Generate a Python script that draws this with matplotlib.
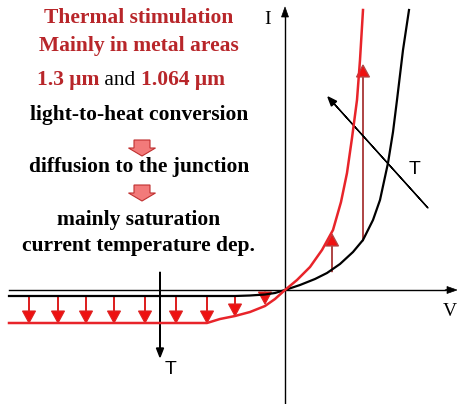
import numpy as np
import matplotlib.pyplot as plt

# I-V curves of a diode (arbitrary units, origin at axis crossing)
red_v = [-27.6, -10.0, -7.8, -6.5, -5.0, -3.5, -2.0, -1.0, 0.0, 1.2, 2.5, 3.7, 4.8,
         5.6, 6.2, 6.7, 7.2, 7.5, 7.8]
red_i = [-3.3, -3.3, -3.3, -2.9, -2.6, -2.2, -1.6, -0.9, 0.0, 1.0, 2.3, 4.0, 6.0,
         8.8, 11.7, 15.2, 19.0, 23.0, 28.0]

black_v = [-27.6, -5.0, -3.5, -2.0, -1.0, 0.0, 1.5, 3.0, 4.2, 5.5, 6.8, 7.8, 8.8,
           9.5, 10.3, 10.8, 11.2, 11.8, 12.4]
black_i = [-0.6, -0.6, -0.55, -0.45, -0.3, 0.0, 0.5, 1.1, 1.7, 2.6, 3.8, 5.0, 7.0,
           9.0, 12.7, 15.8, 19.0, 24.0, 28.0]

# reverse-bias arrows (saturation current increase)
down_v = [-25.6, -22.7, -19.9, -17.1, -14.0, -10.9, -7.8, -5.0, -2.0]
down_top = [-0.6] * 9
down_bot = [-3.3, -3.3, -3.3, -3.3, -3.3, -3.3, -3.3, -2.6, -1.4]

# forward-bias arrows
up_v = [4.7, 7.8]
up_from = [1.8, 4.9]
up_to = [5.6, 22.5]

text_lines = [
    ("Thermal stimulation", 27.2, "#b8262a"),
    ("Mainly in metal areas", 24.4, "#b8262a"),
    ("light-to-heat conversion", 17.5, "black"),
    ("diffusion to the junction", 12.3, "black"),
    ("mainly saturation", 7.0, "black"),
    ("current temperature dep.", 4.4, "black"),
]

fs = 15.5
fig = plt.figure(figsize=(4.57, 4.04), dpi=100)
ax = fig.add_axes([0, 0, 1, 1])
ax.set_xlim(-28.5, 17.2)
ax.set_ylim(-11.4, 29.0)
ax.axis('off')

# axes with arrows
ax.plot([-27.6, 16.0], [0, 0], color='black', lw=1.0)
ax.arrow(16.0, 0, 1.2, 0, head_width=0.7, head_length=1.0, fc='black', ec='black',
         lw=0.5, length_includes_head=True)
ax.plot([0, 0], [-11.4, 27.5], color='black', lw=1.0)
ax.arrow(0, 27.5, 0, 0.8, head_width=0.7, head_length=1.0, fc='black', ec='black',
         lw=0.5, length_includes_head=True)
ax.text(-1.7, 27.0, "I", fontsize=14, family='Liberation Serif', ha='center', va='center')
ax.text(16.5, -2.2, "V", fontsize=14, family='Liberation Serif', ha='center', va='center')

# curves
ax.plot(black_v, black_i, color='black', lw=1.6)
ax.plot(red_v, red_i, color='#e8242a', lw=1.8)

for v, t, b in zip(down_v, down_top, down_bot):
    ax.arrow(v, t, 0, b - t, head_width=1.3, head_length=1.2, fc='#ee1111',
             ec='#dd2222', lw=0.8, length_includes_head=True)
for v, f, t in zip(up_v, up_from, up_to):
    ax.arrow(v, f, 0, t - f, head_width=1.3, head_length=1.2, fc='#ee1111',
             ec='#b04848', lw=0.9, length_includes_head=True)

# temperature arrows
ax.arrow(14.3, 8.2, -10.0, 11.1, head_width=0.7, head_length=0.9, fc='black',
         ec='black', lw=1.0, length_includes_head=True)
ax.text(13.0, 12.0, "T", fontsize=14, family='Liberation Sans', ha='center', va='center')
ax.arrow(-12.5, 1.8, 0, -8.5, head_width=0.7, head_length=0.9, fc='black',
         ec='black', lw=1.0, length_includes_head=True)
ax.text(-11.4, -8.0, "T", fontsize=14, family='Liberation Sans', ha='center', va='center')

# text block
for s, y, c in text_lines:
    ax.text(-14.6, y, s, fontsize=fs, family='Liberation Serif', weight='bold',
            color=c, ha='center', va='center')
t1 = ax.text(-24.8, 21.0, "1.3 μm", fontsize=fs, family='Liberation Serif', weight='bold',
             color='#b8262a', ha='left', va='center')
t2 = ax.annotate(" and ", xy=(1, 0), xycoords=t1, fontsize=fs, family='Liberation Serif',
                 color='black', ha='left', va='bottom')
ax.annotate("1.064 μm", xy=(1, 0), xycoords=t2, fontsize=fs, family='Liberation Serif',
            weight='bold', color='#b8262a', ha='left', va='bottom')

# block arrows between steps
for y0 in [15.0, 10.5]:
    ax.arrow(-14.3, y0, 0, -1.6, width=1.6, head_width=2.7, head_length=0.8,
             fc='#f27a7a', ec='#c03030', lw=0.8, length_includes_head=True)

plt.savefig('out.png', dpi=100)
